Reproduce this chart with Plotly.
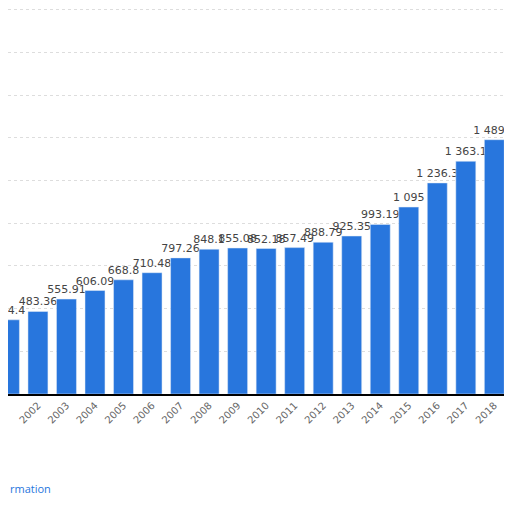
import plotly.graph_objects as go

years = list(range(2001, 2020))
values = [434.4, 483.36, 555.91, 606.09, 668.8, 710.48, 797.26, 848.1, 855.08, 852.18,
          857.49, 888.79, 925.35, 993.19, 1095, 1236.3, 1363.1, 1489.5, 1625.9]
labels = ["434.4", "483.36", "555.91", "606.09", "668.8", "710.48", "797.26", "848.1",
          "855.08", "852.18", "857.49", "888.79", "925.35", "993.19", "1 095", "1 236.3",
          "1 363.1", "1 489.5", "1 625.9"]

fig = go.Figure(go.Bar(
    x=years, y=values, text=labels, textposition="outside", cliponaxis=False,
    textangle=0, constraintext="none",
    width=0.7, marker_color="#2876dd",
    textfont=dict(family="DejaVu Sans", size=11, color="#444"),
))

fig.update_layout(
    width=512, height=512, margin=dict(l=0, r=0, t=0, b=126),
    plot_bgcolor="white", paper_bgcolor="white", showlegend=False,
    uniformtext=dict(minsize=11, mode="show"),
    xaxis=dict(range=[2000.95, 2018.9], tickmode="array", tickvals=years,
               ticktext=[str(y) for y in years], tickangle=-45, automargin=False,
               tickfont=dict(family="DejaVu Sans", size=10, color="#666"),
               showline=True, linecolor="black", linewidth=1.5, showgrid=False),
    yaxis=dict(range=[0, 2261], dtick=250, showticklabels=False, automargin=False,
               gridcolor="#ddd", griddash="dot", zeroline=False),
    annotations=[
        dict(text="rmation", x=0, y=0, xref="paper", yref="paper", yanchor="top",
             xanchor="left", showarrow=False, yshift=-85,
             font=dict(family="Open Sans", size=11, color="#2876dd")),
        dict(text="©", x=1.0, xref="paper", y=0, yref="paper", xanchor="right",
             yanchor="top", yshift=-62, showarrow=False,
             font=dict(family="Open Sans", size=11, color="#2876dd")),
    ],
)

fig.write_html("out.html")
